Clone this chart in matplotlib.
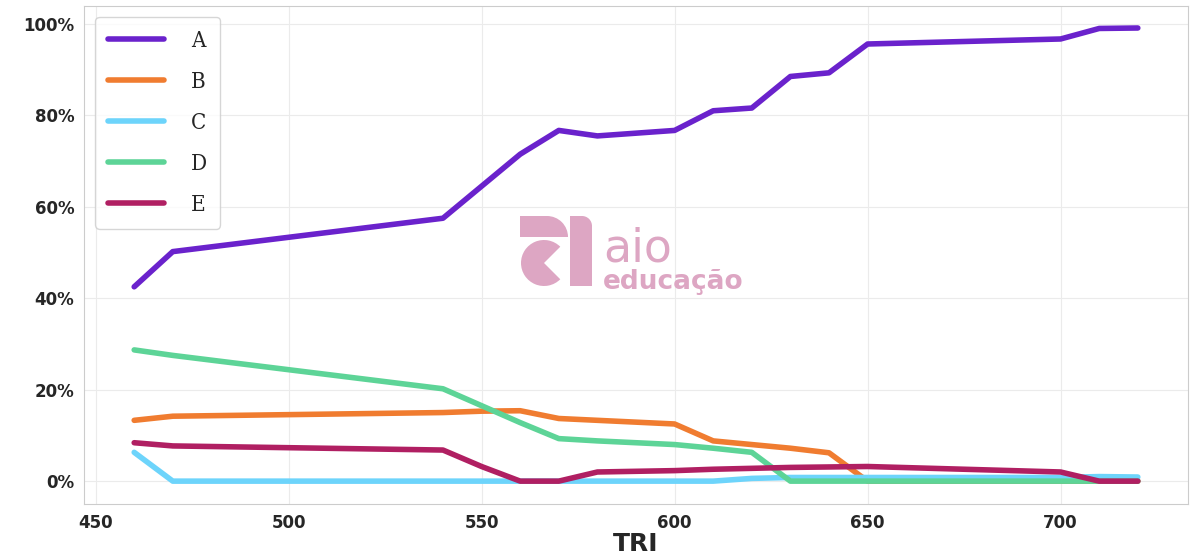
import matplotlib.pyplot as plt
import seaborn as sns
from matplotlib.ticker import PercentFormatter
from matplotlib.patches import Rectangle, Wedge

sns.set_style("whitegrid", {'grid.color': '#ebebeb'})

tri = [460, 470, 540, 550, 560, 570, 580, 600, 610, 620, 630, 640, 650, 700, 710, 720]
A = [42.5, 50.2, 57.5, 64.5, 71.5, 76.7, 75.5, 76.7, 81.0, 81.6, 88.5, 89.3, 95.6, 96.7, 99.0, 99.1]
B = [13.3, 14.2, 15.0, 15.3, 15.4, 13.7, 13.3, 12.5, 8.8, 8.0, 7.2, 6.2, 0.0, 0.0, 0.0, 0.0]
C = [6.3, 0.0, 0.0, 0.0, 0.0, 0.0, 0.0, 0.0, 0.0, 0.6, 0.8, 0.8, 0.8, 0.8, 1.0, 0.9]
D = [28.7, 27.5, 20.2, 16.5, 12.8, 9.3, 8.8, 8.0, 7.2, 6.3, 0.0, 0.0, 0.0, 0.0, 0.0, 0.0]
E = [8.4, 7.7, 6.8, 3.2, 0.0, 0.0, 2.0, 2.3, 2.6, 2.8, 3.0, 3.1, 3.2, 2.0, 0.0, 0.0]

series = {'A': A, 'B': B, 'C': C, 'D': D, 'E': E}
colors = ['#6a22cc', '#f07c30', '#6dd4fb', '#5dd497', '#b01f62']
pink = '#dda6c3'

fig, ax = plt.subplots(figsize=(12, 5.6), dpi=100)
for (name, vals), c in zip(series.items(), colors):
    ax.plot(tri, vals, color=c, lw=4, label=name)

ax.yaxis.set_major_formatter(PercentFormatter(decimals=0))
ax.set_xlim(447, 733)
ax.set_ylim(-5, 104)
ax.set_xlabel('TRI', fontsize=18, fontweight='bold', labelpad=0)
for lbl in ax.get_xticklabels() + ax.get_yticklabels():
    lbl.set_fontweight('bold')
    lbl.set_fontsize(12)
for s in ax.spines.values():
    s.set_color('#cccccc')

ax.legend(loc='upper left', prop={'family': 'DejaVu Serif', 'size': 16, 'stretch': 'condensed'},
          handlelength=2.5, labelspacing=0.85, borderpad=0.6, handletextpad=1.2)

# watermark logo, drawn in a small pixel-scaled inset
logo = fig.add_axes([520 / 1200, 274 / 560, 72 / 1200, 70 / 560])
logo.set_xlim(0, 72)
logo.set_ylim(0, 70)
logo.axis('off')
logo.add_patch(Rectangle((0, 49), 27, 21, color=pink, lw=0))
logo.add_patch(Wedge((27, 49), 21, 0, 90, color=pink, lw=0))
logo.add_patch(Wedge((24, 23), 23, 45, 315, color=pink, lw=0))
logo.add_patch(Rectangle((50, 0), 22, 60, color=pink, lw=0))
logo.add_patch(Rectangle((50, 60), 12, 10, color=pink, lw=0))
logo.add_patch(Wedge((62, 60), 10, 0, 90, color=pink, lw=0))

ax.text(0.470, 0.486, 'aio', transform=ax.transAxes, fontsize=33, color=pink)
ax.text(0.470, 0.432, 'educação', transform=ax.transAxes, fontsize=19,
        fontweight='bold', color=pink)

plt.subplots_adjust(left=0.07, right=0.99, top=0.99, bottom=0.1)
plt.savefig('out.png')
